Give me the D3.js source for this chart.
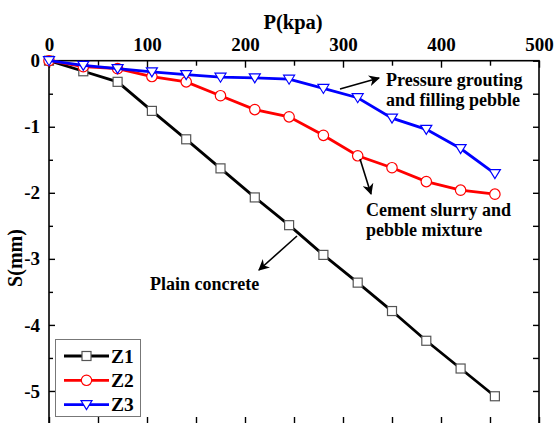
<!DOCTYPE html>
<html lang="en">
<head>
    <meta charset="UTF-8">
    <title>P-S curve</title>
    <script src="https://cdn.jsdelivr.net/npm/d3@7"></script>
    <style>
        body { margin: 0; background: #fff; }
    </style>
</head>
<body>
    <svg width="554" height="423" id="mainsvg"></svg>
    <script>
        // data
        const pressure = [0, 35, 70, 105, 140, 175, 210, 245, 280, 315, 350, 385, 420, 455];
        const z1 = [0, -0.16, -0.32, -0.76, -1.19, -1.63, -2.07, -2.49, -2.94, -3.36, -3.79, -4.24, -4.66, -5.08];
        const z2 = [0, -0.09, -0.12, -0.24, -0.32, -0.53, -0.74, -0.85, -1.13, -1.44, -1.62, -1.83, -1.96, -2.02];
        const z3 = [0, -0.07, -0.12, -0.17, -0.21, -0.25, -0.26, -0.28, -0.42, -0.56, -0.87, -1.04, -1.33, -1.71];
        const seriesNames = ['Z1', 'Z2', 'Z3'];
        const xTicks = [0, 100, 200, 300, 400, 500];
        const yTicks = [0, -1, -2, -3, -4, -5];

        const FONT = "'Liberation Serif', 'Times New Roman', serif";
        const svg = d3.select('svg').attr('font-family', FONT).attr('font-weight', 'bold');
        const pLeft = 49, pRight = 539, pTop = 60.7, pBottom = 424;

        const xScale = d3.scaleLinear().domain([0, 500]).range([pLeft, pRight]);
        const yScale = d3.scaleLinear().domain([0, -5.5]).range([pTop, pBottom]);

        const series = [
            {name: 'Z1', values: z1, color: '#000000', marker: 'square'},
            {name: 'Z2', values: z2, color: '#ff0000', marker: 'circle'},
            {name: 'Z3', values: z3, color: '#0000ff', marker: 'triangle'}
        ];

        // frame
        svg.append('rect').attr('x', pLeft).attr('y', pTop)
            .attr('width', pRight - pLeft).attr('height', pBottom - pTop)
            .attr('fill', 'none').attr('stroke', '#000').attr('stroke-width', 1.6);

        // axes, ticks pointing inward
        const minorX = d3.range(50, 500, 100);
        const minorY = d3.range(-0.5, -5.6, -1);
        const styleAxis = g => {
            g.attr('font-family', FONT).attr('font-weight', 'bold');
            g.select('.domain').remove();
            g.selectAll('.tick line').attr('stroke', '#000').attr('stroke-width', 1.4);
        };
        const xTop = svg.append('g').attr('transform', `translate(0,${pTop})`)
            .call(d3.axisTop(xScale).tickValues(xTicks).tickSizeInner(-7).tickPadding(10).tickFormat(d3.format('d')))
            .call(styleAxis);
        svg.append('g').attr('transform', `translate(0,${pTop})`)
            .call(d3.axisTop(xScale).tickValues(minorX).tickSizeInner(-5).tickFormat(''))
            .call(styleAxis);
        svg.append('g').attr('transform', `translate(0,${pBottom})`)
            .call(d3.axisBottom(xScale).tickValues(xTicks.concat(minorX)).tickSizeInner(-7).tickFormat(''))
            .call(styleAxis);
        const yLeft = svg.append('g').attr('transform', `translate(${pLeft},0)`)
            .call(d3.axisLeft(yScale).tickValues(yTicks).tickSizeInner(-6).tickPadding(9).tickFormat(d3.format('d')))
            .call(styleAxis);
        svg.append('g').attr('transform', `translate(${pLeft},0)`)
            .call(d3.axisLeft(yScale).tickValues(minorY).tickSizeInner(-4).tickFormat(''))
            .call(styleAxis);
        svg.append('g').attr('transform', `translate(${pRight},0)`)
            .call(d3.axisRight(yScale).tickValues(yTicks.concat(minorY)).tickSizeInner(-6).tickFormat(''))
            .call(styleAxis);
        xTop.selectAll('.tick text').attr('font-size', 19).attr('fill', '#000');
        yLeft.selectAll('.tick text').attr('font-size', 19).attr('fill', '#000')
            .text(d => String(d));

        // axis titles
        svg.append('text').text('P(kpa)').attr('x', 293).attr('y', 29)
            .attr('text-anchor', 'middle').attr('font-size', 20.5);
        svg.append('text').text('S(mm)').attr('transform', 'rotate(-90)')
            .attr('x', -258).attr('y', 22).attr('text-anchor', 'middle').attr('font-size', 20);

        // lines
        const line = d3.line().x(d => xScale(d[0])).y(d => yScale(d[1]));
        const drawMarker = (g, type, color, cx, cy) => {
            if (type === 'square') {
                g.append('rect').attr('x', cx - 4.5).attr('y', cy - 4.5).attr('width', 9).attr('height', 9)
                    .attr('fill', '#fff').attr('stroke', '#555').attr('stroke-width', 1.2);
            } else if (type === 'circle') {
                g.append('circle').attr('cx', cx).attr('cy', cy).attr('r', 5.2)
                    .attr('fill', '#fff').attr('stroke', color).attr('stroke-width', 1.2);
            } else {
                g.append('path').attr('d', `M${cx - 5.5},${cy - 4}L${cx + 5.5},${cy - 4}L${cx},${cy + 5}Z`)
                    .attr('fill', '#fff').attr('stroke', color).attr('stroke-width', 1.2);
            }
        };
        series.forEach(s => {
            const pts = pressure.map((p, i) => [p, s.values[i]]);
            const g = svg.append('g');
            g.append('path').datum(pts).attr('d', line)
                .attr('fill', 'none').attr('stroke', s.color).attr('stroke-width', 2.8);
            pts.forEach(d => drawMarker(g, s.marker, s.color, xScale(d[0]), yScale(d[1])));
        });

        // annotations
        svg.append('defs').append('marker').attr('id', 'arrow')
            .attr('viewBox', '0 0 10 10').attr('refX', 9).attr('refY', 5)
            .attr('markerWidth', 7).attr('markerHeight', 7).attr('orient', 'auto')
            .append('path').attr('d', 'M0,0L10,5L0,10L3,5Z').attr('fill', '#000');
        const arrow = (x1, y1, x2, y2) => svg.append('line')
            .attr('x1', x1).attr('y1', y1).attr('x2', x2).attr('y2', y2)
            .attr('stroke', '#000').attr('stroke-width', 1.6).attr('marker-end', 'url(#arrow)');
        arrow(340, 89, 379, 78);
        arrow(360, 159, 371, 194);
        arrow(297, 236, 259, 270);
        const note = (lines, x, y) => lines.forEach((t, i) => svg.append('text').text(t)
            .attr('x', x).attr('y', y + i * 19.5).attr('font-size', 18));
        note(['Pressure grouting', 'and filling pebble'], 386, 86);
        note(['Cement slurry and', 'pebble mixture'], 366, 216);
        note(['Plain concrete'], 150, 290);

        // legend
        const legend = svg.append('g');
        legend.append('rect').attr('x', 55.5).attr('y', 339.5).attr('width', 85).attr('height', 77)
            .attr('fill', '#fff').attr('stroke', '#777').attr('stroke-width', 1);
        series.forEach((s, i) => {
            const ly = 356 + i * 24.3;
            legend.append('line').attr('x1', 64).attr('x2', 109).attr('y1', ly).attr('y2', ly)
                .attr('stroke', s.color).attr('stroke-width', 2.8);
            drawMarker(legend, s.marker, s.color, 86.5, ly);
            legend.append('text').text(seriesNames[i]).attr('x', 111).attr('y', ly + 6.5).attr('font-size', 19.5);
        });
    </script>
</body>
</html>
